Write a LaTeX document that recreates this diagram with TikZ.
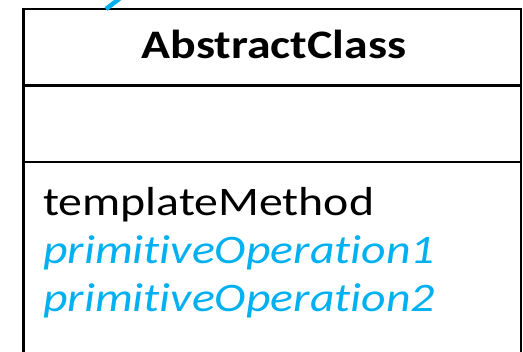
\documentclass[tikz,border=0pt]{standalone}
\usepackage{fontspec}
\setmainfont{Carlito}[FakeStretch=1.18, Ligatures=NoCommon]
\definecolor{opblue}{RGB}{0,176,240}
\tikzset{
  classframe/.style={line width=2.5pt, draw=black},
  classname/.style={font=\fontsize{40.5}{48}\selectfont\bfseries, anchor=base, inner sep=0pt},
  opconcrete/.style={font=\fontsize{40.5}{48}\selectfont, anchor=base west, inner sep=0pt, text=black},
  opabstract/.style={font=\fontsize{40.5}{48}\selectfont\itshape, anchor=base west, inner sep=0pt, text=opblue},
  notelink/.style={line width=4.5pt, draw=opblue},
}
\begin{document}
\begin{tikzpicture}[x=1pt,y=1pt]
\useasboundingbox (0,0) rectangle (523,352);
\clip (0,0) rectangle (523,352);
% class box (continues below the visible area)
\coordinate (boxNW) at (23.7,343);
\coordinate (boxSE) at (521,-20);
\draw[classframe] (boxNW) rectangle (boxSE);
% compartment dividers
\coordinate (divA-w) at (23.7,266.5);
\coordinate (divA-e) at (521,266.5);
\coordinate (divB-w) at (23.7,190);
\coordinate (divB-e) at (521,190);
\draw[classframe] (divA-w) -- (divA-e);
\draw[classframe] (divB-w) -- (divB-e);
% class name
\node[classname] (name) at (274,293) {AbstractClass};
% operations
\node[opconcrete] (op0) at (43,136) {templateMethod};
\node[opabstract] (op1) at (43,88) {primitiveOperation1};
\node[opabstract] (op2) at (43,40) {primitiveOperation2};
% link leaving the top of the class
\coordinate (linkStart) at (106,343);
\coordinate (linkEnd) at (132,363);
\draw[notelink] (linkStart) -- (linkEnd);
\end{tikzpicture}
\end{document}
